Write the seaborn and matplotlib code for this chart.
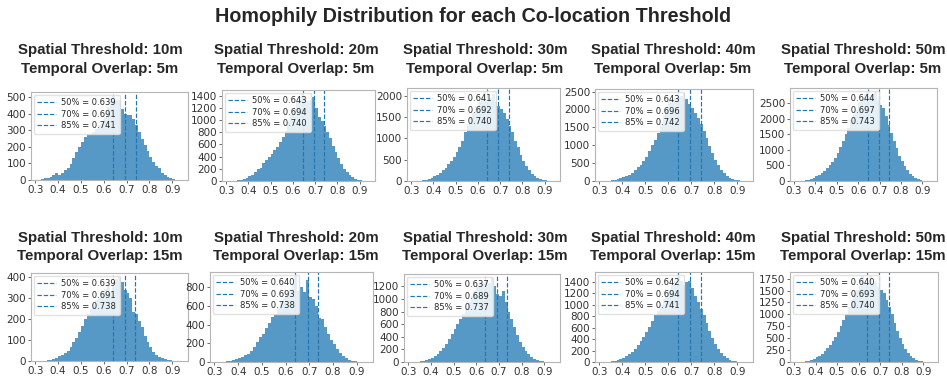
import numpy as np
import pandas as pd
import matplotlib
matplotlib.use("Agg")
import matplotlib.pyplot as plt
from matplotlib.ticker import MultipleLocator
import seaborn as sns

# ---- data -------------------------------------------------------------
spatial_thresholds = [10, 20, 30, 40, 50]      # metres
temporal_overlaps = [5, 15]                    # minutes
percentiles = [50, 70, 85]

# histogram bins shared by every panel
bin_edges = np.linspace(0.3125, 0.9375, 51)
bin_centers = (bin_edges[:-1] + bin_edges[1:]) / 2

# bin counts, temporal overlap 5m
counts_s10_t5 = [3, 8, 10, 12, 18, 30, 40, 32, 45, 60, 75, 95, 130, 170, 200, 230, 260, 275, 280, 290,
                 310, 330, 345, 380, 440, 490, 505, 480, 480, 430, 395, 390, 390, 370, 330, 290, 250, 210, 175, 140,
                 110, 85, 70, 45, 28, 18, 10, 5, 3, 1]
counts_s20_t5 = [3, 5, 8, 12, 20, 35, 55, 75, 100, 140, 190, 220, 290, 340, 390, 440, 500, 560, 640, 720,
                 820, 960, 1080, 1180, 1300, 1380, 1420, 1340, 1310, 1330, 1380, 1200, 1050, 990, 900, 800, 700, 580, 470, 380,
                 280, 200, 140, 95, 60, 35, 20, 10, 5, 2]
counts_s30_t5 = [3, 5, 10, 20, 35, 55, 75, 110, 150, 190, 260, 310, 400, 480, 560, 680, 800, 950, 1150, 1350,
                 1500, 1600, 1750, 1850, 1980, 2080, 1900, 1950, 2050, 1850, 1750, 1680, 1600, 1450, 1300, 1150, 950, 800, 620, 480,
                 350, 250, 170, 110, 70, 40, 22, 12, 5, 2]
counts_s40_t5 = [3, 6, 12, 20, 35, 55, 80, 110, 140, 180, 230, 300, 380, 460, 560, 680, 830, 1000, 1150, 1350,
                 1600, 1850, 2050, 2250, 2300, 2330, 2350, 2380, 2450, 2300, 2150, 2050, 1900, 1750, 1600, 1400, 1200, 980, 780, 600,
                 450, 320, 220, 140, 85, 50, 28, 14, 6, 2]
counts_s50_t5 = [3, 6, 12, 22, 40, 65, 100, 150, 200, 260, 330, 410, 500, 620, 750, 900, 1100, 1300, 1500, 1700,
                 1950, 2150, 2300, 2550, 2650, 2800, 2850, 2700, 2800, 2850, 2600, 2450, 2350, 2100, 1800, 1550, 1300, 1050, 820, 640,
                 480, 340, 230, 150, 90, 55, 30, 15, 6, 2]

# bin counts, temporal overlap 15m
counts_s10_t15 = [1, 1, 2, 3, 5, 8, 15, 22, 30, 38, 50, 65, 90, 110, 140, 165, 200, 225, 250, 270,
                  290, 300, 320, 345, 370, 330, 360, 390, 400, 375, 340, 325, 300, 235, 225, 190, 160, 120, 90, 65,
                  45, 30, 20, 13, 8, 5, 3, 2, 1, 0]
counts_s20_t15 = [1, 2, 4, 8, 12, 20, 30, 40, 55, 70, 90, 120, 160, 210, 270, 300, 360, 420, 480, 520,
                  580, 640, 700, 720, 780, 840, 920, 760, 800, 750, 880, 700, 680, 600, 470, 460, 380, 300, 240, 190,
                  140, 100, 65, 40, 25, 15, 8, 4, 2, 1]
counts_s30_t15 = [1, 2, 4, 8, 15, 25, 45, 70, 100, 130, 170, 220, 290, 360, 440, 520, 600, 680, 760, 850,
                  950, 1050, 1120, 1200, 1270, 1250, 1300, 1260, 1330, 1200, 1080, 1050, 1130, 950, 800, 680, 560, 430, 320, 240,
                  170, 120, 80, 50, 30, 18, 10, 5, 2, 1]
counts_s40_t15 = [1, 3, 5, 10, 18, 30, 50, 75, 110, 140, 180, 230, 290, 360, 430, 530, 620, 720, 830, 900,
                  1000, 1100, 1150, 1250, 1350, 1420, 1500, 1420, 1350, 1400, 1420, 1300, 1150, 1050, 930, 830, 680, 540, 420, 320,
                  230, 160, 105, 65, 38, 22, 12, 6, 3, 1]
counts_s50_t15 = [2, 4, 8, 15, 25, 40, 65, 95, 130, 170, 230, 290, 360, 440, 530, 640, 760, 880, 1000, 1150,
                  1300, 1420, 1520, 1600, 1800, 1650, 1700, 1800, 1650, 1700, 1580, 1520, 1450, 1300, 1150, 1000, 820, 650, 500, 380,
                  270, 190, 125, 80, 48, 28, 15, 8, 3, 1]

# 50th / 70th / 85th percentile of each distribution
quantiles_t5 = [[0.639, 0.691, 0.741], [0.643, 0.694, 0.740], [0.641, 0.692, 0.740],
                [0.643, 0.696, 0.742], [0.644, 0.697, 0.743]]
quantiles_t15 = [[0.639, 0.691, 0.738], [0.640, 0.693, 0.738], [0.637, 0.689, 0.737],
                 [0.642, 0.694, 0.741], [0.640, 0.693, 0.740]]

x_tick_labels = ["0.3", "0.4", "0.5", "0.6", "0.7", "0.8", "0.9"]
y_tick_steps = [[100, 200, 500, 500, 500], [100, 200, 200, 200, 250]]

counts_by_row = [
    [counts_s10_t5, counts_s20_t5, counts_s30_t5, counts_s40_t5, counts_s50_t5],
    [counts_s10_t15, counts_s20_t15, counts_s30_t15, counts_s40_t15, counts_s50_t15],
]
quantiles_by_row = [quantiles_t5, quantiles_t15]

# ---- layout (pixel boxes: left, top, right, bottom) ----------------------
W, H = 947, 379
axes_boxes = [
    [(31, 92, 188, 180), (222, 90, 375, 181), (407, 88, 560, 181), (595, 89, 753, 181), (790, 88, 937, 181)],
    [(31, 273, 188, 361), (210, 272, 373, 362), (404, 274, 560, 362), (595, 272, 753, 362), (790, 272, 938, 362)],
]
title_centers = [100, 296, 485, 673, 863]
title_rows_y = [(50, 69), (238, 256)]

sns.set_style("white")
plt.rcParams["font.family"] = ["DejaVu Sans"]
title_font = ["Liberation Sans", "DejaVu Sans"]

bar_color = "#1f77b4"
fig = plt.figure(figsize=(W / 100, H / 100), dpi=100)

fig.text(0.5, 1 - 17 / H, "Homophily Distribution for each Co-location Threshold",
         ha="center", va="center", fontsize=14.2, fontweight="bold", family=title_font)

for r, overlap in enumerate(temporal_overlaps):
    for c, spatial in enumerate(spatial_thresholds):
        x0, y0, x1, y1 = axes_boxes[r][c]
        ax = fig.add_axes([x0 / W, 1 - y1 / H, (x1 - x0) / W, (y1 - y0) / H])
        frame = pd.DataFrame({"homophily": bin_centers,
                              "count": np.asarray(counts_by_row[r][c], dtype=float)})
        sns.histplot(data=frame, x="homophily", weights="count", bins=list(bin_edges), ax=ax,
                     color=bar_color, alpha=0.75, linewidth=0)
        for p, q in zip(percentiles, quantiles_by_row[r][c]):
            ax.axvline(q, color=bar_color, linestyle="--", linewidth=0.85,
                       label=f"{p}% = {q:.3f}")
        ax.set_xlabel("")
        ax.set_ylabel("")
        ax.set_xticks([float(t) for t in x_tick_labels])
        ax.set_xticklabels(x_tick_labels)
        ax.yaxis.set_major_locator(MultipleLocator(y_tick_steps[r][c]))
        ax.tick_params(axis="both", labelsize=7.5, length=2.5, width=0.6,
                       color="#555555", labelcolor="#333333", pad=1, bottom=True, left=True)
        for s in ax.spines.values():
            s.set_color("#b5b5b5")
            s.set_linewidth(0.8)
        ax.legend(loc="upper left", fontsize=6.0, frameon=True, framealpha=0.85,
                  edgecolor="#dddddd", handlelength=2.3, borderpad=0.45, labelspacing=0.3,
                  handletextpad=0.6, borderaxespad=0.3)

        ty1, ty2 = title_rows_y[r]
        cx = title_centers[c] / W
        fig.text(cx, 1 - ty1 / H, f"Spatial Threshold: {spatial}m", ha="center", va="center",
                 fontsize=10.8, fontweight="bold", family=title_font)
        fig.text(cx, 1 - ty2 / H, f"Temporal Overlap: {overlap}m", ha="center", va="center",
                 fontsize=10.8, fontweight="bold", family=title_font)

fig.savefig("out.png", dpi=100)
